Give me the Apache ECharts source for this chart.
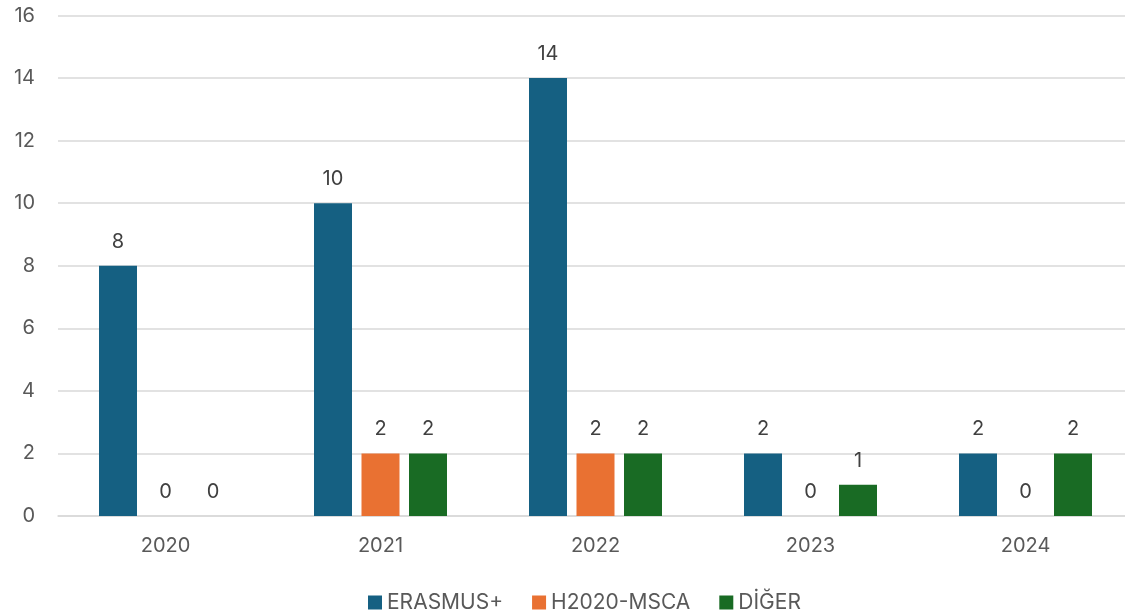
<!DOCTYPE html>
<html>
<head>
<meta charset="utf-8">
<script src="https://cdn.jsdelivr.net/npm/echarts@6/dist/echarts.min.js"></script>
<style>html,body{margin:0;padding:0;background:#fff;overflow:hidden;width:1125px;height:613px}#c{width:1133px;height:613px}</style>
</head>
<body>
<div id="c"></div>
<script>
const categories = ['2020', '2021', '2022', '2023', '2024'];
const seriesNames = ['ERASMUS+', 'H2020-MSCA', 'DİĞER'];
const erasmus = [8, 10, 14, 2, 2];
const h2020 = [0, 2, 2, 0, 0];
const diger = [0, 2, 2, 1, 2];
const colors = ['#156082', '#E97132', '#196B24'];

const FONT = 'Inter';
const TXT = '#595959';
const chart = echarts.init(document.getElementById('c'));
const mk = (name, data, color) => ({
  name, type: 'bar', data,
  barWidth: 38, barGap: '25%',
  itemStyle: { color },
  label: { show: true, position: 'top', distance: 14, color: '#404040', fontSize: 20, fontFamily: FONT },
  emphasis: { disabled: true }
});
chart.setOption({
  animation: false,
  color: colors,
  grid: { left: 58, top: 15.5, right: 0, bottom: 97, containLabel: false },
  legend: {
    top: 587, left: 363, icon: 'rect', itemWidth: 14, itemHeight: 14, itemGap: 29,
    textStyle: { color: TXT, fontSize: 21, fontFamily: FONT },
    data: seriesNames
  },
  xAxis: {
    type: 'category', data: categories,
    axisLine: { lineStyle: { color: '#d9d9d9', width: 1.5 } },
    axisTick: { show: false },
    axisLabel: { color: TXT, fontSize: 20, fontFamily: FONT, margin: 20 }
  },
  yAxis: {
    type: 'value', min: 0, max: 16, interval: 2,
    axisLine: { show: false }, axisTick: { show: false },
    splitLine: { lineStyle: { color: '#d9d9d9', width: 1.5 } },
    axisLabel: { color: TXT, fontSize: 20, fontFamily: FONT, margin: 23 }
  },
  series: [mk(seriesNames[0], erasmus, colors[0]), mk(seriesNames[1], h2020, colors[1]), mk(seriesNames[2], diger, colors[2])]
});
</script>
</body>
</html>
